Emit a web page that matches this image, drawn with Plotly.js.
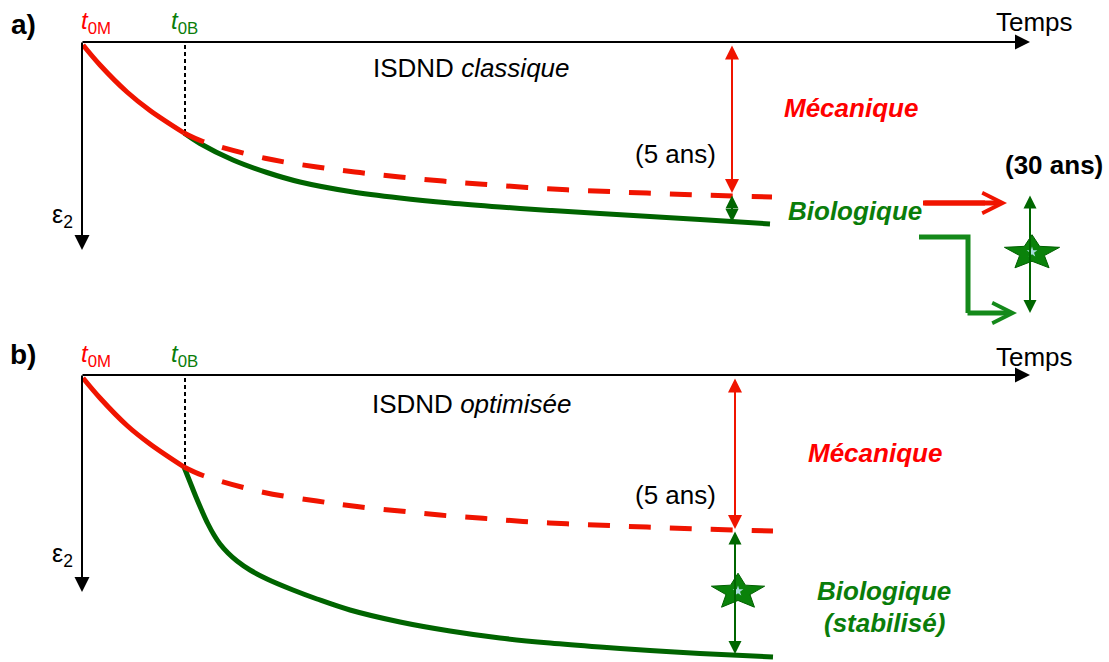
<!DOCTYPE html>
<html><head><meta charset="utf-8">
<script src="https://cdn.plot.ly/plotly-3.0.1.min.js"></script>
<style>html,body{margin:0;padding:0;background:#fff;}#chart{width:1109px;height:662px;}</style>
</head><body><div id="chart"></div>
<script>
// ---------- data (time on x, settlement eps2 downward on y) ----------
// Panel a : ISDND classique
const aMecaT = [83,100,127,150,184];
const aMecaE = [45,65,92,110.5,133];
const aMecaDashT = [184,203,265,317,360,400,443,483,527,567,610,647,700,772];
const aMecaDashE = [133,141.5,158.2,167,172.6,177,181.1,184.3,187.4,189.8,191.6,193.1,195,197];
const aBioT = [184,200,233,267,300,350,400,450,500,550,600,650,700,770];
const aBioE = [133,143.5,160,172.5,182,191.5,198,203,207,210.5,213.5,216.5,219.5,224];
// Panel b : ISDND optimisée
const bMecaT = [83,100,127,150,184];
const bMecaE = [378,398,425.5,444,467];
const bMecaDashT = [184,203,263,317,357,400,440,483,523,567,610,647,700,773];
const bMecaDashE = [467,475.5,492.2,501,506.6,511,515.1,518.3,521.4,523.8,525.6,527.1,529,531];
const bBioT = [184,190,196,202,208,214,220,228,237,250,267,293,317,350,400,450,500,550,600,650,700,773];
const bBioE = [467,482,497,511,524,535,544,553,561,570,579,590,599,610,622,631,638,643,647,650.5,653.5,657];
// key times / levels
const t0 = [82, 82];          // origin time, panels a,b
const t0B = [185, 185];       // start of biological settlement
const tEnd = [1030, 1030];    // end of time axis
const axisLevel = [42, 375];  // eps2 = 0 level in each panel
const axisBottom = [250, 592];
const t5ans = [732, 735];     // time of the "5 ans" reading
const meca5 = [193, 529];     // mechanical settlement at 5 ans
const bio5 = [222, 654];      // total settlement at 5 ans
const t30 = 1030; const meca30 = 194; const bio30 = 313;
const starT = [1032, 738]; const starE = [253, 592];

// ---------- styles ----------
const RED='#f01400', REDTXT='#ff0000', GREEN='#006400', GTXT='#0a7d0a', GREEN2='#14891a', DARKG='#006600';
const FONT='Liberation Sans, Arial, sans-serif';

const traces = [];
function line(x,y,color,width,dash,shape){
  traces.push({x:x,y:y,type:'scatter',mode:'lines',hoverinfo:'skip',
    line:{color:color,width:width,dash:dash||'solid',shape:shape||'linear',smoothing:1}});
}
// dashed t0B markers
for(let i=0;i<2;i++) line([t0B[i],t0B[i]],[axisLevel[i]+3,[133,466][i]],'#000',2,'4px,3px');
// curves
line(aBioT,aBioE,GREEN,5,'solid','spline');
line(bBioT,bBioE,GREEN,5,'solid','spline');
line(aMecaDashT,aMecaDashE,RED,5,'22px,19px','spline');
line(bMecaDashT,bMecaDashE,RED,5,'22px,19px','spline');
line(aMecaT,aMecaE,RED,5,'solid','spline');
line(bMecaT,bMecaE,RED,5,'solid','spline');
// green L path (30 ans)
line([919,968,968],[237,237,bio30],GREEN2,5);
line([923,985],[203,203],RED,5);

// stars
const shapes=[];
function starPath(cx,cy,rx,ry){
  let p='';
  for(let i=0;i<10;i++){
    const ang=-Math.PI/2+i*Math.PI/5, r=(i%2)?0.45:1;
    p+=(i?'L':'M')+(cx+rx*r*Math.cos(ang)).toFixed(2)+','+(cy+ry*r*Math.sin(ang)).toFixed(2);
  }
  return p+'Z';
}

const ann=[];
function arrow(x0,y0,x1,y1,color,w,dbl,head,size){
  ann.push({x:x1,y:y1,ax:x0,ay:y0,xref:'x',yref:'y',axref:'x',ayref:'y',text:'',showarrow:true,
    arrowcolor:color,arrowwidth:w,arrowhead:head,arrowsize:size,
    arrowside:dbl?'end+start':'end',startarrowhead:head,startarrowsize:size,standoff:0,startstandoff:0});
}
for(let i=0;i<2;i++){
  arrow(t0[i]-1,axisLevel[i],tEnd[i],axisLevel[i],'#000',2,false,2,1.5);
  arrow(t0[i],axisLevel[i]-1,t0[i],axisBottom[i],'#000',2,false,2,1.5);
  arrow(t5ans[i],axisLevel[i]+2,t5ans[i],meca5[i],RED,2,true,2,1.4);
  arrow(t5ans[i],meca5[i]+1,t5ans[i],bio5[i],DARKG,2,true,2,1.3);
}
arrow(t30,meca30,t30,bio30,DARKG,2,true,2,1.3);
arrow(923,203,1007,203,RED,5,false,5,0.8);
arrow(966,bio30,1017,bio30,GREEN2,5,false,5,0.8);

for(let i=0;i<2;i++){
  shapes.push({type:'path',xref:'x',yref:'y',layer:'below',path:starPath(starT[i],starE[i],[29,28][i],[18.3,18.8][i]),
    fillcolor:'#0a820a',line:{color:'#006000',width:1}});
}
traces.push({x:starT,y:[starE[0]-1,starE[1]-1],type:'scatter',mode:'markers',hoverinfo:'skip',
  marker:{symbol:'star',size:8,color:'#a9dcdc',line:{width:0}}});

// text
function txt(t,x,y,size,color,xa){
  ann.push({text:t,x:x,y:y,xref:'x',yref:'y',showarrow:false,xanchor:xa||'center',yanchor:'middle',
    font:{family:FONT,size:size,color:color}});
}
const panelLabels=['<b>a)</b>','<b>b)</b>'];
const titles=['ISDND <i>classique</i>','ISDND <i>optimisée</i>'];
const labY=[[24,354],[22,355],[22,357],[68,404],[154,495],[108,453]];
for(let i=0;i<2;i++){
  txt(panelLabels[i],23,labY[0][i],28,'#000');
  txt('<i>t</i><sub>0M</sub>',96,labY[1][i],24,REDTXT);
  txt('<i>t</i><sub>0B</sub>',184,labY[1][i],24,GTXT);
  txt('Temps',1034,labY[2][i],26,'#000');
  txt(titles[i],471,labY[3][i],26,'#000');
  txt('(5 ans)',675,labY[4][i],26,'#000');
  txt('<b><i>Mécanique</i></b>',[851,875][i],labY[5][i],26,REDTXT);
  txt('ε<sub>2</sub>',62,[216,555][i],25,'#000');
}
txt('<b><i>Biologique</i></b>',855,211,26,GTXT);
txt('<b>(30 ans)</b>',1054,165,26,'#000');
txt('<b><i>Biologique</i></b>',884,591,26,GTXT);
txt('<b><i>(stabilisé)</i></b>',884,623,26,GTXT);

const layout={width:1109,height:662,margin:{l:0,r:0,t:0,b:0},showlegend:false,
  paper_bgcolor:'#fff',plot_bgcolor:'#fff',
  xaxis:{range:[0,1109],visible:false,fixedrange:true},
  yaxis:{range:[662,0],visible:false,fixedrange:true},
  annotations:ann,shapes:shapes,font:{family:FONT}};
Plotly.newPlot('chart',traces,layout,{staticPlot:true,displayModeBar:false});
</script></body></html>
